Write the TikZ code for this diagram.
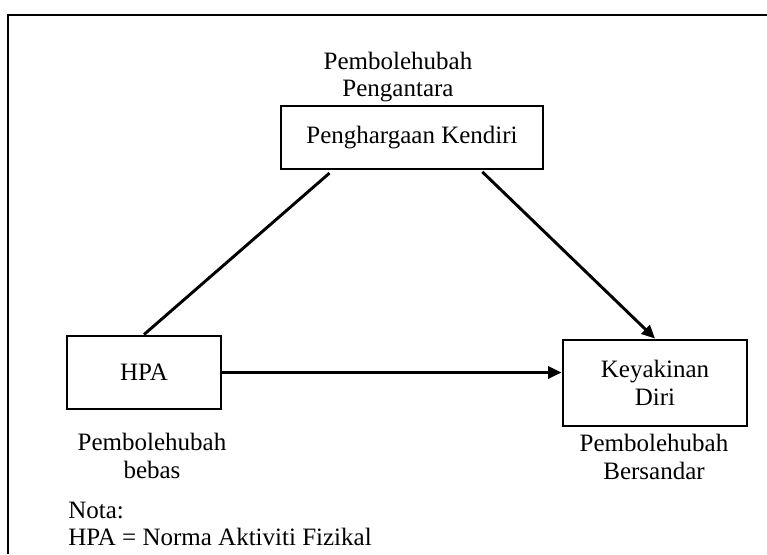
\documentclass[tikz,border=0pt]{standalone}
\usepackage{fontspec}
\setmainfont{Liberation Serif}
\usetikzlibrary{arrows.meta,calc}

\tikzset{
	varbox/.style={draw, line width=2.2pt, align=center, inner sep=0pt, font=\fontsize{18.75pt}{20.6pt}\selectfont},
	varlabel/.style={align=center, inner sep=0pt, font=\fontsize{18.75pt}{20.6pt}\selectfont},
	link/.style={line width=2.2pt},
	linkarrow/.style={line width=2.2pt, -{Triangle[length=10pt,width=9pt]}},
}

\begin{document}
\begin{tikzpicture}[x=0.75pt, y=-0.75pt]
		%%%%% START %%%%%
		\useasboundingbox (0, 0) rectangle (767, 554);
		
		\draw[line width=2.2pt] (8, 554) -- (8, 15) -- (767, 15);
		
		\node[varlabel] (lblmed) at (398, 77) {Pembolehubah\\Pengantara};
		\node[varbox, minimum width=196.5pt, minimum height=47.25pt] (pk) at (412, 137.5) {Penghargaan Kendiri};
		
		\node[varbox, minimum width=115.5pt, minimum height=54.75pt] (hpa) at (144, 372.5) {HPA};
		\node[varlabel] (lblfree) at (152, 456) {Pembolehubah\\bebas};
		
		\node[varbox, minimum width=138pt, minimum height=64.5pt] (ky) at (655, 383) {Keyakinan\\Diri};
		\node[varlabel] (lbldep) at (654, 457) {Pembolehubah\\Bersandar};
		
		\node[varlabel, anchor=west, align=left] (nota) at (68, 524) {Nota:\\HPA = Norma Aktiviti Fizikal};
		
		\draw[link, shorten >=3pt] (hpa.north) -- ($(pk.south west)!0.2!(pk.south east)$);
		\draw[linkarrow, shorten <=1.5pt] ($(pk.south west)!0.76!(pk.south east)$) -- (ky.north);
		\draw[linkarrow] (hpa.east) -- (hpa.east -| ky.west);
		
		%%%%% END %%%%%
	\end{tikzpicture}
\end{document}
